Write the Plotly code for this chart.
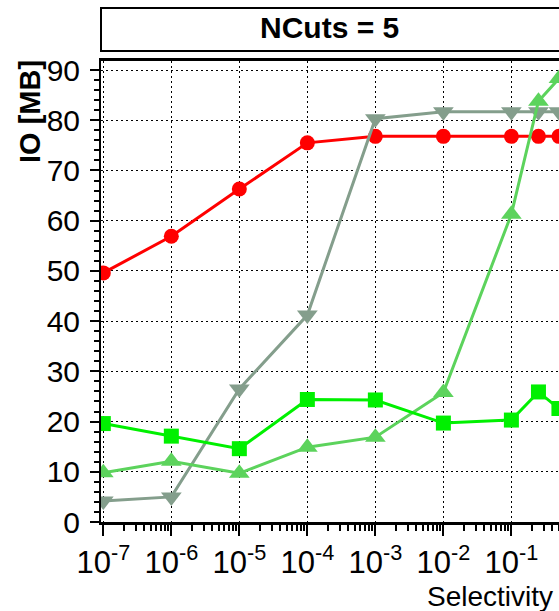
import plotly.graph_objects as go

# Selectivity values (log axis) and IO in MB for each configuration
selectivity = [1e-7, 1e-6, 1e-5, 1e-4, 1e-3, 1e-2, 1e-1, 0.25, 0.5]

io_red_circles = [49.6, 56.9, 66.3, 75.5, 76.8, 76.8, 76.8, 76.8, 76.8]
io_gray_down = [4.2, 5.0, 26.5, 41.2, 80.3, 81.7, 81.7, 81.7, 81.7]
io_lgreen_up = [9.8, 12.1, 9.7, 14.9, 16.9, 25.8, 61.3, 83.8, 88.3]
io_green_squares = [19.6, 17.1, 14.6, 24.4, 24.3, 19.7, 20.3, 25.9, 22.6]

x_tickvals = [1e-7, 1e-6, 1e-5, 1e-4, 1e-3, 1e-2, 1e-1]
x_ticktext = ["10<sup>-7</sup>", "10<sup>-6</sup>", "10<sup>-5</sup>", "10<sup>-4</sup>",
              "10<sup>-3</sup>", "10<sup>-2</sup>", "10<sup>-1</sup>"]
x_minor = [k * 10.0 ** e for e in range(-8, 1) for k in range(2, 10)]

FONT = "Liberation Sans, Arial, sans-serif"

fig = go.Figure()

series = [
    (io_red_circles, "#ff0000", "circle", 15),
    (io_gray_down, "#849e8c", "triangle-down", 18),
    (io_lgreen_up, "#5cd35c", "triangle-up", 18),
    (io_green_squares, "#00f000", "square", 15),
]
for ys, col, sym, sz in series:
    fig.add_trace(go.Scatter(
        x=selectivity, y=ys, mode="lines+markers",
        line=dict(color=col, width=3),
        marker=dict(color=col, symbol=sym, size=sz, line=dict(width=0)),
        showlegend=False, cliponaxis=True,
    ))

W, H = 559, 611
L, R, T, B = 101, 0, 61, 89.3
pw, ph = W - L - R, H - T - B


def px_x(px):
    return (px - L) / pw


def px_y(py):
    return (H - B - py) / ph


fig.update_layout(
    width=W, height=H,
    margin=dict(l=L, r=R, t=T, b=B, pad=0),
    paper_bgcolor="white", plot_bgcolor="white",
    font=dict(family=FONT, color="black"),
    xaxis=dict(
        type="log", range=[-7.034, -0.30],
        tickmode="array", tickvals=x_tickvals, ticktext=x_ticktext,
        tickfont=dict(size=31, family=FONT),
        ticks="outside", ticklen=11, tickwidth=1.5, tickcolor="black",
        minor=dict(tickmode="array", tickvals=x_minor, ticks="outside",
                   ticklen=6, tickwidth=1.5, tickcolor="black", showgrid=False),
        showline=True, linecolor="black", linewidth=2.5, mirror=True,
        showgrid=True, gridcolor="black", gridwidth=1, griddash="2px,3px",
        zeroline=False, ticklabelstandoff=0,
    ),
    yaxis=dict(
        range=[0, 91.8],
        tickmode="linear", tick0=0, dtick=10,
        tickfont=dict(size=30, family=FONT),
        ticks="outside", ticklen=9, tickwidth=1.5, tickcolor="black",
        minor=dict(dtick=2, ticks="outside", ticklen=5, tickwidth=1.5,
                   tickcolor="black", showgrid=False),
        showline=True, linecolor="black", linewidth=2, mirror=False,
        showgrid=True, gridcolor="black", gridwidth=1, griddash="2px,3px",
        zeroline=False, ticklabelstandoff=4,
    ),
    shapes=[
        dict(type="rect", xref="paper", yref="paper",
             x0=px_x(101), x1=px_x(640), y0=px_y(51), y1=px_y(8),
             line=dict(color="black", width=2), fillcolor="white"),
    ],
    annotations=[
        dict(text="<b>NCuts = 5</b>", xref="paper", yref="paper",
             x=px_x(329), y=px_y(28), xanchor="center", yanchor="middle",
             showarrow=False, font=dict(size=30, family=FONT)),
        dict(text="<b>IO [MB]</b>", xref="paper", yref="paper",
             x=px_x(30), y=px_y(112), xanchor="center", yanchor="middle",
             textangle=-90, showarrow=False, font=dict(size=29, family=FONT)),
        dict(text="Selectivity", xref="paper", yref="paper",
             x=px_x(555), y=px_y(596), xanchor="right", yanchor="middle",
             showarrow=False, font=dict(size=28, family=FONT)),
    ],
)

fig.write_html("out.html")
